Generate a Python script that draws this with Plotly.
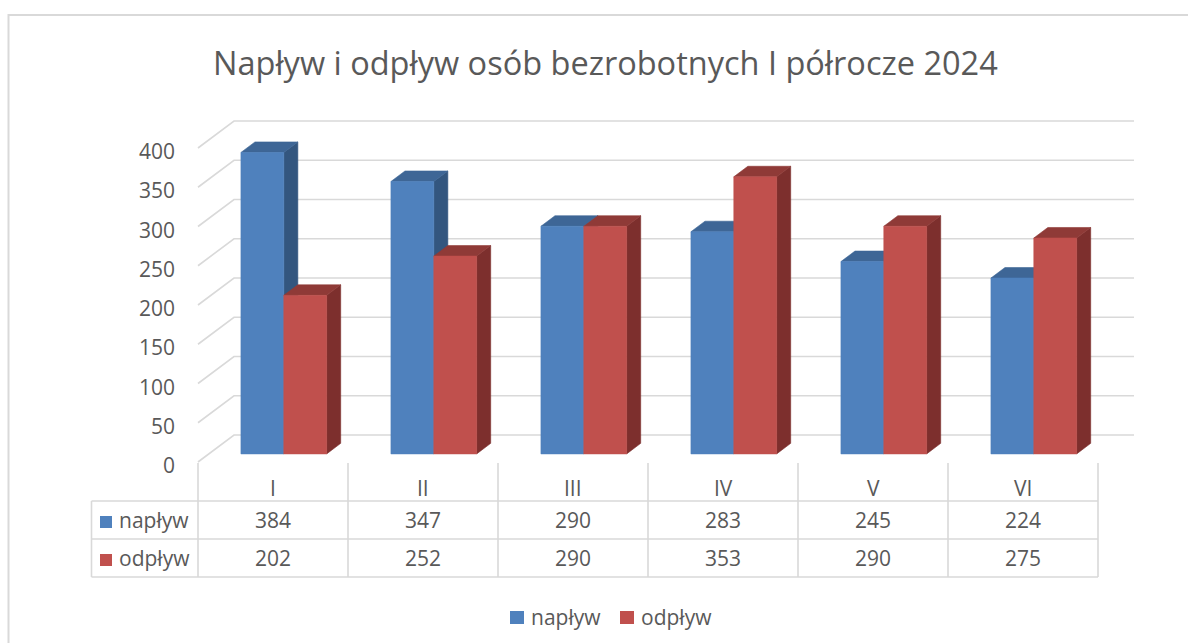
import plotly.graph_objects as go

# ---------------- data ----------------
categories = ["I", "II", "III", "IV", "V", "VI"]
naplyw = [384, 347, 290, 283, 245, 224]
odplyw = [202, 252, 290, 353, 290, 275]
series_names = ["napływ", "odpływ"]
y_ticks = [0, 50, 100, 150, 200, 250, 300, 350, 400]
title_text = "Napływ i odpływ osób bezrobotnych I półrocze 2024"

# ---------------- geometry / style ----------------
W, H = 1188, 643
X0_PX, CAT_PX = 198, 150          # front-plane x of first category, px per category
Y0_PX, PX_PER_UNIT = 462, 0.785   # front-plane y of value 0, px per value unit
DEPTH_DX_PX, DEPTH_DY_PX = 36, 27  # oblique offset of the back wall
GAP = 1.5                          # gap width (fraction of bar width)
Z_FRONT, Z_BACK = 0.30, 0.69       # bar depth inside the floor

FONT = "Open Sans"
TXT = "#595959"
GRID = "#D9D9D9"
FACE = {
    0: dict(front="#4F81BD", top="#3E6696", side="#33567F"),
    1: dict(front="#C0504D", top="#8F3A37", side="#7D2F2D"),
}

x_range = [(0 - X0_PX) / CAT_PX, (W - X0_PX) / CAT_PX]
y_range = [(Y0_PX - H) / PX_PER_UNIT, Y0_PX / PX_PER_UNIT]
DX = DEPTH_DX_PX / CAT_PX
DY = DEPTH_DY_PX / PX_PER_UNIT


def px_x(px):
    return (px - X0_PX) / CAT_PX


def px_y(py):
    return (Y0_PX - py) / PX_PER_UNIT


def proj(x, v, z):
    return x + DX * z, v + DY * z


fig = go.Figure()

# ---------------- gridlines (left wall diagonal + back wall) ----------------
gx, gy = [], []
n_cat = len(categories)
for t in y_ticks:
    for (x, z) in [(0, 0), (0, 1), (n_cat, 1)]:
        px, py = proj(x, t, z)
        gx.append(px)
        gy.append(py)
    gx.append(None)
    gy.append(None)
fig.add_trace(go.Scatter(x=gx, y=gy, mode="lines", line=dict(color=GRID, width=1.6),
                         hoverinfo="skip", showlegend=False))

# ---------------- 3D bars ----------------
bw = 1.0 / (2 + GAP)
half_gap = GAP * bw / 2
all_series = [naplyw, odplyw]

for s, vals in enumerate(all_series):
    faces = {"side": ([], []), "top": ([], []), "front": ([], [])}
    for i, v in enumerate(vals):
        x0 = i + half_gap + s * bw
        x1 = x0 + bw
        polys = {
            "side": [(x1, 0, Z_FRONT), (x1, 0, Z_BACK), (x1, v, Z_BACK), (x1, v, Z_FRONT)],
            "top": [(x0, v, Z_FRONT), (x1, v, Z_FRONT), (x1, v, Z_BACK), (x0, v, Z_BACK)],
            "front": [(x0, 0, Z_FRONT), (x1, 0, Z_FRONT), (x1, v, Z_FRONT), (x0, v, Z_FRONT)],
        }
        for k, pts in polys.items():
            xs, ys = faces[k]
            for p in pts + [pts[0]]:
                a, b = proj(*p)
                xs.append(a)
                ys.append(b)
            xs.append(None)
            ys.append(None)
    for k in ["side", "top", "front"]:
        xs, ys = faces[k]
        col = FACE[s][k]
        fig.add_trace(go.Scatter(x=xs, y=ys, mode="lines", fill="toself", fillcolor=col,
                                 line=dict(color=col, width=0.6), name=series_names[s],
                                 hoverinfo="skip", showlegend=False))

# ---------------- y tick labels ----------------
for t in y_ticks:
    fig.add_annotation(x=px_x(177), y=t - 3 / PX_PER_UNIT, text=str(t), showarrow=False,
                       xanchor="right", yanchor="middle",
                       font=dict(family=FONT, size=21, color=TXT))

# ---------------- data table ----------------
TBL_LEFT, TBL_TOP_V, ROW1, ROW2, ROW3 = 91.5, 463, 501, 539, 577
shapes = []
line_style = dict(color=GRID, width=1.6)
for i in range(n_cat + 1):
    shapes.append(dict(type="line", xref="x", yref="y", x0=i, x1=i,
                       y0=px_y(TBL_TOP_V), y1=px_y(ROW3), line=line_style))
shapes.append(dict(type="line", xref="x", yref="y", x0=px_x(TBL_LEFT), x1=px_x(TBL_LEFT),
                   y0=px_y(ROW1), y1=px_y(ROW3), line=line_style))
for r in [ROW1, ROW2, ROW3]:
    shapes.append(dict(type="line", xref="x", yref="y", x0=px_x(TBL_LEFT), x1=n_cat,
                       y0=px_y(r), y1=px_y(r), line=line_style))

for i, c in enumerate(categories):
    fig.add_annotation(x=i + 0.5, y=px_y(488), text=c, showarrow=False,
                       font=dict(family=FONT, size=21, color=TXT))
    for s, vals in enumerate(all_series):
        ry = px_y((ROW1 + ROW2) / 2 if s == 0 else (ROW2 + ROW3) / 2)
        fig.add_annotation(x=i + 0.5, y=ry, text=str(vals[i]),
                           showarrow=False, font=dict(family=FONT, size=21, color=TXT))

# row headers with keys
for s in range(2):
    cy = (ROW1 + ROW2) / 2 if s == 0 else (ROW2 + ROW3) / 2
    shapes.append(dict(type="rect", xref="x", yref="y",
                       x0=px_x(100), x1=px_x(112), y0=px_y(cy - 4), y1=px_y(cy + 8),
                       fillcolor=FACE[s]["front"], line=dict(width=0)))
    fig.add_annotation(x=px_x(117), y=px_y(cy), text=series_names[s], showarrow=False,
                       xanchor="left", font=dict(family=FONT, size=21, color=TXT))

# ---------------- bottom legend ----------------
LEG_Y = 617
for s, (kx, tx) in enumerate([(510, 529), (620, 639)]):
    shapes.append(dict(type="rect", xref="x", yref="y",
                       x0=px_x(kx), x1=px_x(kx + 14), y0=px_y(LEG_Y - 6), y1=px_y(LEG_Y + 7),
                       fillcolor=FACE[s]["front"], line=dict(width=0)))
    fig.add_annotation(x=px_x(tx), y=px_y(LEG_Y), text=series_names[s], showarrow=False,
                       xanchor="left", font=dict(family=FONT, size=21, color=TXT))

# ---------------- chart frame ----------------
shapes.append(dict(type="rect", xref="paper", yref="paper",
                   x0=8.5 / W, x1=1.05, y0=-0.05, y1=1 - 15 / H,
                   line=dict(color="#D9D9D9", width=2), fillcolor="rgba(0,0,0,0)"))

# ---------------- title ----------------
fig.add_annotation(xref="paper", yref="paper", x=605 / W, y=1 - 62 / H, text=title_text,
                   showarrow=False, xanchor="center", yanchor="middle",
                   font=dict(family=FONT, size=32.5, color=TXT))

fig.update_layout(
    width=W, height=H, margin=dict(l=0, r=0, t=0, b=0),
    paper_bgcolor="white", plot_bgcolor="white",
    xaxis=dict(range=x_range, visible=False, fixedrange=True),
    yaxis=dict(range=y_range, visible=False, fixedrange=True),
    shapes=shapes, showlegend=False,
)

fig.write_html("out.html", config={"displayModeBar": False},
               post_script="document.body.style.margin='0';document.body.style.overflow='hidden';")
